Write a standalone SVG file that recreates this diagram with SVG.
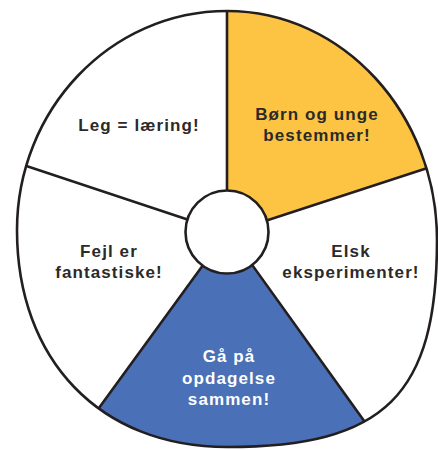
<svg xmlns="http://www.w3.org/2000/svg" width="438" height="450" viewBox="0 0 438 450">
<style>
.ln{stroke:#231f20;stroke-width:2.6;fill:none;stroke-linecap:round;stroke-linejoin:round}
.t{font-family:"Liberation Sans",Arial,sans-serif;font-weight:bold;font-size:17px;letter-spacing:1.1px;text-anchor:middle;fill:#2b2a29}
.tw{fill:#ffffff}
</style>
<defs>
<path id="outline" d="M227,11 C343,11 437,114 437,240 C437,395 385,447 227,447 C100,447 17,360 17,230 C17,110 110,11 227,11 Z"/>
<clipPath id="clip"><use href="#outline"/></clipPath>
</defs>
<rect width="438" height="450" fill="#ffffff"/>
<use href="#outline" fill="#ffffff"/>
<g id="seg-leg">
<text class="t" x="139" y="131">Leg = læring!</text>
</g>
<g id="seg-born">
<polygon clip-path="url(#clip)" points="227,233 227,-10 470,-10 470,154" fill="#fdc444"/>
<text class="t" x="317" y="120">Børn og unge</text>
<text class="t" x="317" y="141">bestemmer!</text>
</g>
<g id="seg-elsk">
<text class="t" x="351" y="257">Elsk</text>
<text class="t" x="351" y="278">eksperimenter!</text>
</g>
<g id="seg-ga">
<polygon clip-path="url(#clip)" points="227,232 54,470 399,470" fill="#4a70b7"/>
<text class="t tw" x="229" y="362">Gå på</text>
<text class="t tw" x="229" y="383.5">opdagelse</text>
<text class="t tw" x="229" y="405">sammen!</text>
</g>
<g id="seg-fejl">
<text class="t" x="109" y="257">Fejl er</text>
<text class="t" x="109" y="278">fantastiske!</text>
</g>
<g id="connectors" clip-path="url(#clip)">
<line class="ln" x1="227" y1="200" x2="227" y2="-10"/>
<line class="ln" x1="262" y1="222" x2="470" y2="154"/>
<line class="ln" x1="192" y1="221" x2="-10" y2="154"/>
<line class="ln" x1="206" y1="261" x2="80" y2="434"/>
<line class="ln" x1="250" y1="262" x2="385" y2="450"/>
</g>
<use href="#outline" class="ln"/>
<g id="center">
<circle cx="227" cy="232" r="41.5" fill="#ffffff" class="ln" style="fill:#ffffff"/>
</g>
</svg>
